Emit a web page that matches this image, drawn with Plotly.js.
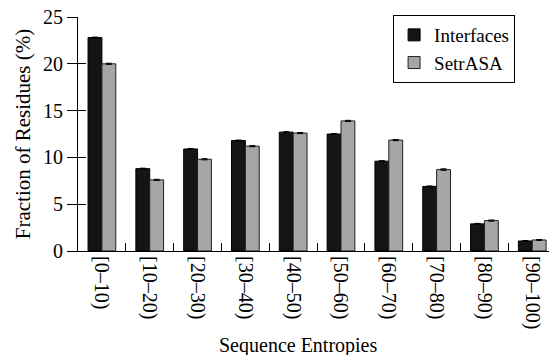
<!DOCTYPE html>
<html><head><meta charset="utf-8">
<script src="https://cdn.plot.ly/plotly-3.0.1.min.js"></script>
<style>html,body{margin:0;padding:0;background:#fff}</style>
</head><body><div id="chart" style="width:549px;height:355px"></div>
<script>
const categories = ["[0–10)","[10–20)","[20–30)","[30–40)","[40–50)","[50–60)","[60–70)","[70–80)","[80–90)","[90–100)"];
const interfaces = [22.8, 8.8, 10.9, 11.8, 12.7, 12.5, 9.6, 6.9, 2.9, 1.07];
const setrasa = [20.0, 7.6, 9.8, 11.2, 12.6, 13.9, 11.85, 8.7, 3.25, 1.18];
const interfacesErr = [0.05, 0.05, 0.05, 0.05, 0.05, 0.05, 0.05, 0.05, 0.05, 0.05];
const setrasaErr = [0.06, 0.06, 0.06, 0.06, 0.06, 0.06, 0.06, 0.08, 0.06, 0.05];
const yTicks = [0, 5, 10, 15, 20, 25];
const xTitle = "Sequence Entropies";
const yTitle = "Fraction of Residues (%)";

const fontFam = "Liberation Serif";
const data = [
  {type:"bar", name:"Interfaces", x:categories, y:interfaces,
   marker:{color:"#141414", line:{color:"#000", width:1}},
   error_y:{type:"data", array:interfacesErr, color:"#000", thickness:1, width:3}},
  {type:"bar", name:"SetrASA", x:categories, y:setrasa,
   marker:{color:"#a6a6a6", line:{color:"#222", width:1}},
   error_y:{type:"data", array:setrasaErr, color:"#000", thickness:1, width:3}},
  {type:"scatter", x:[categories[0]], y:[0], yaxis:"y2", mode:"markers",
   marker:{opacity:0}, showlegend:false, hoverinfo:"skip"}
];
const layout = {
  width:549, height:355,
  margin:{l:78, r:0, t:17, b:104},
  paper_bgcolor:"#fff", plot_bgcolor:"#fff",
  font:{family:fontFam, size:20, color:"#000"},
  barmode:"group", bargap:0.42, bargroupgap:0,
  showlegend:true,
  legend:{x:0.928, y:1.0085, xanchor:"right", yanchor:"top",
    bgcolor:"#fff", bordercolor:"#000", borderwidth:1,
    font:{family:fontFam, size:19, color:"#000"}, tracegroupgap:0},
  xaxis:{type:"category", range:[-0.5, 9.35], showline:true, linecolor:"#000", linewidth:1,
    ticks:"inside", tickson:"boundaries", ticklen:8, tickcolor:"#000",
    tickangle:90, tickfont:{family:fontFam, size:20, color:"#000"},
    showgrid:false, zeroline:false},
  yaxis:{range:[0,25], tickvals:yTicks, showline:true, linecolor:"#000", linewidth:1,
    ticks:"outside", ticklen:10, tickcolor:"#000", showgrid:false, zeroline:false,
    tickfont:{family:fontFam, size:20, color:"#000"},
    title:{text:yTitle, font:{family:fontFam, size:21, color:"#000"}, standoff:6}},
  yaxis2:{range:[0,25], tickvals:yTicks, overlaying:"y", side:"left", showticklabels:false,
    ticks:"inside", ticklen:8, tickcolor:"#000", showline:false, showgrid:false, zeroline:false},
  annotations:[{text:xTitle, xref:"paper", yref:"paper", x:0.468, y:-0.402,
    xanchor:"center", yanchor:"middle", showarrow:false,
    font:{family:fontFam, size:20, color:"#000"}}]
};
Plotly.newPlot("chart", data, layout, {displayModeBar:false, staticPlot:true});
</script></body></html>
